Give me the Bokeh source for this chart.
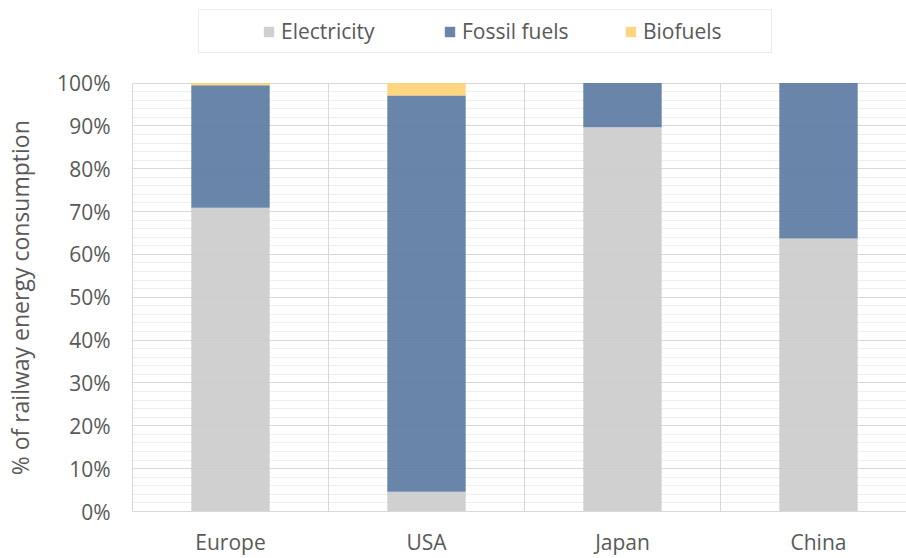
from bokeh.plotting import figure
from bokeh.models import (Range1d, FixedTicker, Legend, LegendItem,
                          PrintfTickFormatter, ColumnDataSource)
from bokeh.embed import file_html
from bokeh.resources import INLINE

categories = ["Europe", "USA", "Japan", "China"]
electricity = [70.9, 4.6, 89.7, 63.7]
fossil_fuels = [28.6, 92.5, 10.3, 36.3]
biofuels = [0.5, 2.9, 0.0, 0.0]
series_names = ["Electricity", "Fossil fuels", "Biofuels"]
series_colors = ["#cbcbcb", "#5978a0", "#fed072"]
y_tick_values = [0, 10, 20, 30, 40, 50, 60, 70, 80, 90, 100]
y_minor_values = list(range(0, 101, 2))
y_label = "% of railway energy consumption"

TEXT = "#595959"
FONT = "Open Sans"
GRID = "#d9d9d9"

x_pos = [i + 0.5 for i in range(len(categories))]
src = ColumnDataSource(dict(x=x_pos, electricity=electricity,
                            fossil=fossil_fuels, biofuels=biofuels))

# frame spans the full height above the x axis; 100% sits 83px below the top
p = figure(width=906, height=558, output_backend="svg", toolbar_location=None,
           x_range=Range1d(0, 3.949), y_range=Range1d(0, 119.26),
           min_border_left=132, min_border_right=0,
           min_border_top=0, min_border_bottom=44)
p.outline_line_color = None
p.background_fill_color = "white"
p.border_fill_color = "white"

# grids
p.ygrid.ticker = FixedTicker(ticks=y_tick_values, minor_ticks=y_minor_values)
p.ygrid.grid_line_color = GRID
p.ygrid.minor_grid_line_color = "#efefef"
p.xgrid.grid_line_color = None
boundaries = list(range(1, len(categories)))
p.segment(x0=boundaries, x1=boundaries, y0=0, y1=100, line_color=GRID, line_width=1)

renderers = p.vbar_stack(["electricity", "fossil", "biofuels"], x="x", width=0.4,
                         source=src, fill_color=series_colors, line_color=None,
                         fill_alpha=0.9)

# y axis (non-breaking spaces pad the label so it centres on the 0-100% span)
p.yaxis.ticker = FixedTicker(ticks=y_tick_values, minor_ticks=y_minor_values)
p.yaxis.bounds = (0, 100)
p.yaxis.formatter = PrintfTickFormatter(format="%d%%")
p.yaxis.axis_label = y_label + "\u00a0" * 14
p.yaxis.axis_label_text_font = FONT
p.yaxis.axis_label_text_font_size = "23px"
p.yaxis.axis_label_text_font_style = "normal"
p.yaxis.axis_label_text_color = TEXT
p.yaxis.axis_label_standoff = 18
p.yaxis.major_label_text_font = FONT
p.yaxis.major_label_text_font_size = "21px"
p.yaxis.major_label_text_color = TEXT
p.yaxis.major_label_standoff = 22

# x axis
p.xaxis.ticker = FixedTicker(ticks=x_pos)
p.xaxis.major_label_overrides = {xv: c for xv, c in zip(x_pos, categories)}
p.xaxis.major_label_text_font = FONT
p.xaxis.major_label_text_font_size = "21px"
p.xaxis.major_label_text_color = TEXT
p.xaxis.major_label_standoff = 16

for ax in (p.xaxis, p.yaxis):
    ax.axis_line_color = GRID
    ax.major_tick_line_color = None
    ax.minor_tick_line_color = None
    ax.major_tick_out = 0
    ax.major_tick_in = 0
    ax.minor_tick_out = 0
    ax.minor_tick_in = 0

items = [LegendItem(label=n, renderers=[r]) for n, r in zip(series_names, renderers)]
legend = Legend(items=items, orientation="horizontal", location=(66, 458),
                margin=0, padding=7, spacing=41, label_standoff=6,
                glyph_width=13, glyph_height=13, label_width=121,
                label_text_font=FONT, label_text_font_size="21px",
                label_text_color=TEXT,
                title=" ", title_location="left", title_standoff=32,
                title_text_font_size="21px",
                border_line_color=GRID, border_line_width=1,
                background_fill_color="white", background_fill_alpha=1)
p.add_layout(legend, "center")

open("out.html", "w").write(file_html(p, INLINE))
